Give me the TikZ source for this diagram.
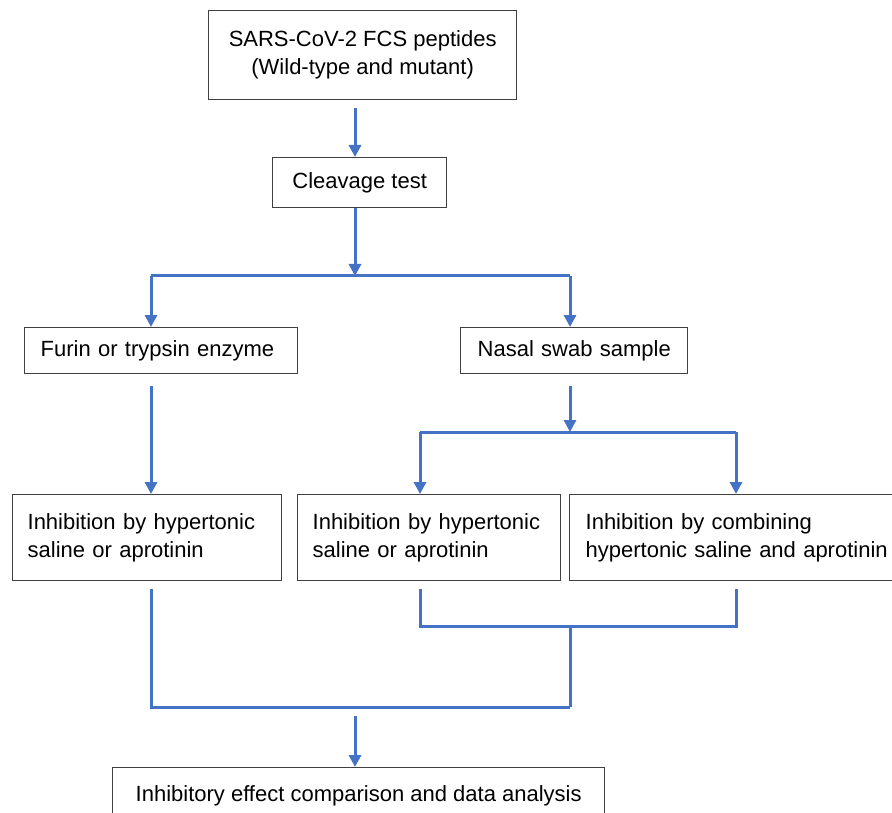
\documentclass[tikz,border=0pt]{standalone}
\usepackage{fontspec}
\setmainfont{Liberation Sans}
\usetikzlibrary{arrows.meta}
\definecolor{flowblue}{HTML}{4472C4}
\definecolor{boxline}{HTML}{404040}
\begin{document}
\begin{tikzpicture}[x=1pt,y=-1pt,
  box/.style={draw=boxline,line width=1.3pt,fill=white,anchor=north west,
    font=\fontsize{22}{28}\selectfont,inner ysep=0pt},
  cbox/.style={box,align=center},
  lbox/.style={box,align=left},
  conn/.style={draw=flowblue,line width=3pt},
  arr/.style={conn,-{Triangle[length=12pt,width=12pt]}}]
\clip (0,0) rectangle (892,813);
\fill[white] (0,0) rectangle (892,813);
% boxes
\node[cbox,minimum width=308pt,minimum height=89pt] (top) at (208,10)
  {SARS-CoV-2 FCS peptides\\ (Wild-type and mutant)};
\node[cbox,minimum width=174pt,minimum height=50pt] (clv) at (272,157) {Cleavage test};
\node[lbox,minimum height=46pt,inner xsep=16pt,text width=241pt] (fur) at (24,327) {Furin or trypsin enzyme};
\node[lbox,minimum height=46pt,inner xsep=17pt,text width=193pt] (nas) at (460,327) {\mbox{Nasal swab sample}};
\node[lbox,minimum height=86pt,inner xsep=15pt,text width=239pt] (inL) at (12,494)
  {Inhibition by hypertonic\\saline or aprotinin};
\node[lbox,minimum height=86pt,inner xsep=15pt,text width=233pt] (inM) at (297,494)
  {Inhibition by hypertonic\\saline or aprotinin};
\node[lbox,minimum height=86pt,inner xsep=16pt,text width=320pt] (inR) at (569,494)
  {Inhibition by combining\\hypertonic saline and aprotinin};
\node[cbox,minimum width=492pt,minimum height=56pt] (bot) at (112,767)
  {Inhibitory effect comparison and data analysis};
% junction coordinates
\coordinate (c0) at (355,276);
\coordinate (cL) at (151,276);
\coordinate (cR) at (570,276);
\coordinate (d0) at (570,432);
\coordinate (dL) at (420,432);
\coordinate (dR) at (736,432);
\coordinate (eL) at (420,626);
\coordinate (eR) at (736,626);
\coordinate (eM) at (570,626);
\coordinate (fL) at (151,707);
\coordinate (fR) at (570,707);
\coordinate (f0) at (355,707);
% connectors
\draw[arr,shorten <=8pt] (top.south -| c0) -- (clv.north -| c0);
\draw[arr] (clv.south -| c0) -- (c0);
\draw[conn] (cL) -- (cR);
\draw[arr] (cL) -- (fur.north -| cL);
\draw[arr] (cR) -- (nas.north -| cR);
\draw[arr,shorten <=12pt] (fur.south -| cL) -- (inL.north -| cL);
\draw[arr,shorten <=12pt] (nas.south -| d0) -- (d0);
\draw[conn] (dL) -- (dR);
\draw[arr] (dL) -- (inM.north -| dL);
\draw[arr] (dR) -- (inR.north -| dR);
\draw[conn,shorten <=8pt] (inM.south -| eL) -- (eL) -- (eR) -- ([yshift=-8pt]inR.south -| eR);
\draw[conn] (eM) -- (fR);
\draw[conn,shorten <=8pt] (inL.south -| fL) -- (fL) -- (fR);
\draw[arr,shorten <=9pt] (f0) -- (bot.north -| f0);
\end{tikzpicture}
\end{document}
